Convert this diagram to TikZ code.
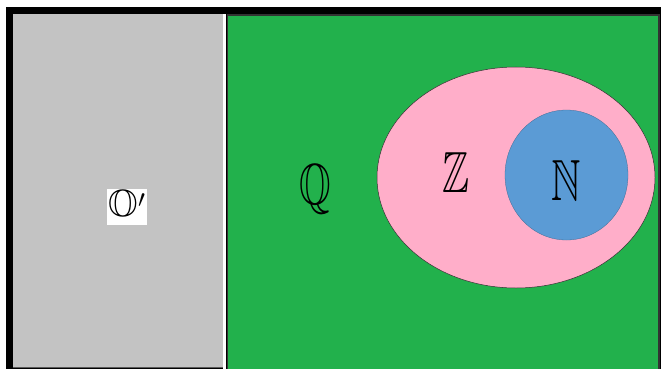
\documentclass[tikz,border=0pt]{standalone}
\usepackage{amsmath,amssymb}
\usepackage{tikz}
\usetikzlibrary{positioning}
\usepackage{xcolor}
\definecolor{setgray}{HTML}{C3C3C3}
\definecolor{setgreen}{HTML}{22B14C}
\definecolor{setpink}{HTML}{FFAEC9}
\definecolor{setblue}{HTML}{5B9BD5}
\newcommand{\narrowset}[1]{\scalebox{0.7}[1]{$\mathbb{#1}$}}
\tikzset{
  setlabel/.style={inner sep=1pt,font=\fontsize{58}{62}\selectfont},
}
\begin{document}
\begin{tikzpicture}[x=1pt,y=-1pt]
        \useasboundingbox (0,0) rectangle (661,369);
        % frame and the two regions
        \fill[black] (6,7) rectangle (661,369);
        \fill[setgray] (13,14) rectangle (223,367);
        \draw[gray!70!black,line width=0.6pt] (13,367) -- (223,367);
        \fill[white] (223,14) rectangle (226,369);
        \fill[setgreen,draw=black!80,line width=1.2pt] (227.5,15) rectangle (659,370);
        % nested sets
        \filldraw[fill=setpink,draw=black!80,line width=0.5pt] (516,177.5) ellipse (139 and 110.5);
        \fill[setblue,draw=setblue!70!black,line width=0.3pt] (566.5,175) ellipse (61.5 and 65);
        % labels
        \node[setlabel] (nat) at (566,181) {\narrowset{N}};
        \node[setlabel] (int) at (456,173) {\narrowset{Z}};
        \node[setlabel] (rat) at (315,189) {\narrowset{Q}};
        \node[inner sep=1.5pt,fill=white,font=\fontsize{38}{42}\selectfont] (irr) at (127,207) {$\mathbb{O}'$};
      \end{tikzpicture}
\end{document}
